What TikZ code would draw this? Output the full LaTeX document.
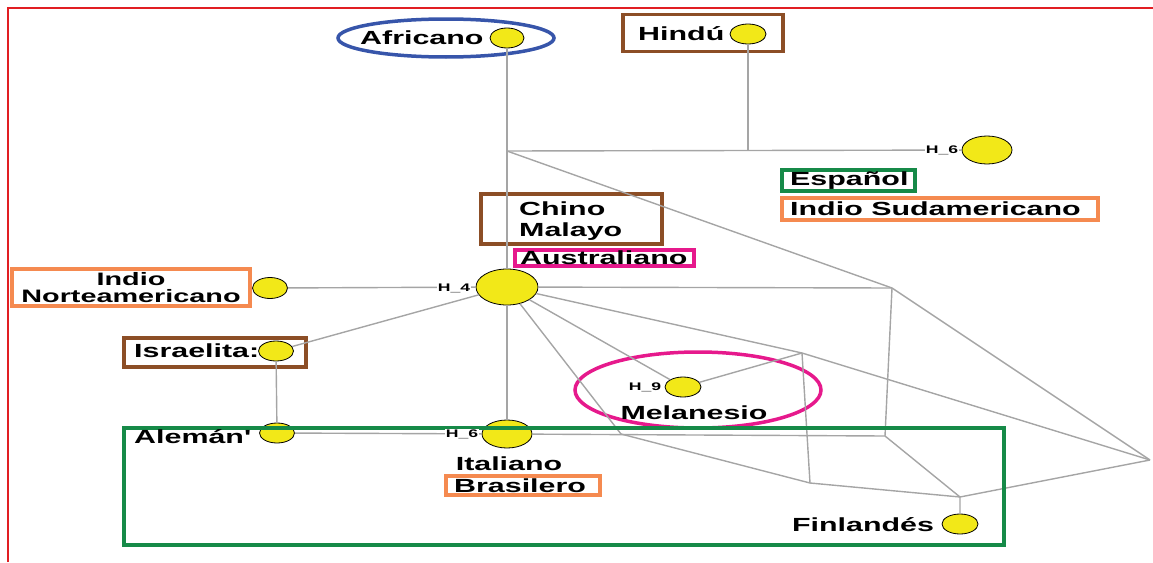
\documentclass[tikz,border=0pt]{standalone}
\usepackage{fontspec}
\newfontfamily\rotulo[FakeStretch=1.6]{Liberation Sans}
\usepackage{tikz}
\usetikzlibrary{shapes}

\begin{document}
\begin{tikzpicture}[x=1pt,y=-1pt]
    \definecolor{mimarron}{RGB}{140,78,38}
    \definecolor{minaranja}{RGB}{245,138,80}
    \definecolor{miverde}{RGB}{22,138,72}
    \definecolor{mirosa}{RGB}{230,25,140}
    \definecolor{miazul}{RGB}{55,85,170}
    \definecolor{miamarillo}{RGB}{242,232,24}
    \definecolor{migris}{RGB}{165,165,165}
    \definecolor{mirojo}{RGB}{225,30,35}

    \tikzstyle{nudo}=[ellipse,draw=black,line width=0.8pt,fill=miamarillo,inner sep=0pt]  % nodo amarillo
    \tikzstyle{caja}=[rectangle,draw,line width=3.5pt,inner sep=0pt]  % recuadro de color
    \tikzstyle{aro}=[ellipse,draw,line width=3.5pt,inner sep=0pt]  % ovalo de color
    \tikzstyle{rama}=[draw=migris,line width=1.4pt]  % linea gris de la red
    \tikzstyle{nombre}=[font=\rotulo\bfseries\fontsize{19}{16}\selectfont,inner sep=0pt]
    \tikzstyle{hnom}=[font=\rotulo\bfseries\fontsize{11}{11}\selectfont,inner sep=0.5pt,fill=white]
    \tikzstyle{punto}=[coordinate]  % union de ramas

    \useasboundingbox (0,0) rectangle (1153,562);
    \draw[mirojo,line width=1.2pt] (8,562) -- (8,8) -- (1153,8);

    % recuadros y ovalos
    \node[aro,draw=miazul,minimum width=216,minimum height=38](afrO) at (446,38){};
    \node[caja,draw=mimarron,minimum width=160,minimum height=37](hinC) at (703,33){};
    \node[caja,draw=miverde,minimum width=133,minimum height=21](espC) at (848.5,180.5){};
    \node[caja,draw=minaranja,minimum width=316,minimum height=22](sudC) at (940,209){};
    \node[caja,draw=mimarron,minimum width=181,minimum height=50](chiC) at (571.5,219){};
    \node[caja,draw=mirosa,minimum width=179,minimum height=16](ausC) at (604.5,258){};
    \node[caja,draw=minaranja,minimum width=238,minimum height=37](norC) at (131,287.5){};
    \node[caja,draw=mimarron,minimum width=182,minimum height=29](isrC) at (215,352.5){};
    \node[caja,draw=minaranja,minimum width=154,minimum height=19](braC) at (523,485.5){};
    \node[aro,draw=mirosa,minimum width=246,minimum height=76](melO) at (698,390){};

    % nodos amarillos
    \node[nudo,minimum width=34,minimum height=20](afr) at (507,38){};
    \node[nudo,minimum width=36,minimum height=20](hin) at (748,34){};
    \node[nudo,minimum width=50,minimum height=28](h6a) at (987,150){};
    \node[nudo,minimum width=62,minimum height=36](cen) at (507,287){};
    \node[nudo,minimum width=35,minimum height=21](inn) at (270,288){};
    \node[nudo,minimum width=35,minimum height=20](isr) at (276,351){};
    \node[nudo,minimum width=35,minimum height=20](ale) at (277,433){};
    \node[nudo,minimum width=50,minimum height=28](ita) at (507,434){};
    \node[nudo,minimum width=36,minimum height=20](mel) at (683,387){};
    \node[nudo,minimum width=36,minimum height=20](fin) at (960,524){};

    % uniones
    \node[punto](j1) at (507,151){};
    \node[punto](j1h) at (748,151){};
    \node[punto](j2) at (892,288){};
    \node[punto](j3) at (1150,460){};
    \node[punto](j4) at (802,353){};
    \node[punto](j5) at (810,483){};
    \node[punto](j6) at (621,434){};
    \node[punto](j7) at (885,436){};
    \node[punto](j8) at (960,497){};

    % ramas
    \draw[rama](afr) -- (j1) -- (cen);
    \draw[rama](j1) -- (h6a);
    \draw[rama](hin) -- (j1h);
    \draw[rama](j1) -- (j2);
    \draw[rama](cen) -- (j2) -- (j3);
    \draw[rama](j2) -- (j7);
    \draw[rama](cen) -- (j4) -- (j3);
    \draw[rama](cen) -- (mel) -- (j4);
    \draw[rama](j4) -- (j5);
    \draw[rama](cen) -- (j6) -- (j5) -- (j8) -- (j3);
    \draw[rama](ita) -- (j7) -- (j8) -- (fin);
    \draw[rama](ale) -- (ita);
    \draw[rama](isr) -- (ale);
    \draw[rama](isr) -- (cen);
    \draw[rama](inn) -- (cen);
    \draw[rama](cen) -- (ita);

    % caja grande verde
    \node[caja,draw=miverde,minimum width=880,minimum height=117](grupo) at (564,486.5){};

    % textos
    \node[nombre,anchor=west](afrT) at (360,38){Africano};
    \node[nombre,anchor=west](hinT) at (638,34){Hindú};
    \node[nombre,anchor=west](espT) at (790,181){Español};
    \node[nombre,anchor=west](sudT) at (790,209){Indio Sudamericano};
    \node[nombre,anchor=west,align=left](chiT) at (519,221.5){Chino\\[5pt]Malayo};
    \node[nombre,anchor=west](ausT) at (520,258){Australiano};
    \node[nombre,align=center,font=\rotulo\bfseries\fontsize{18}{17}\selectfont](norT) at (131,288){Indio\\Norteamericano};
    \node[nombre,anchor=west](isrT) at (134,351){Israelita:};
    \node[nombre,anchor=west](aleT) at (134,437){Alemán'};
    \node[nombre](itaT) at (509,464){Italiano};
    \node[nombre,anchor=west](braT) at (454,486){Brasilero};
    \node[nombre](melT) at (694,413){Melanesio};
    \node[nombre](finT) at (863,525){Finlandés};

    % rotulos H_
    \node[hnom](h6aT) at (942,150){H\_6};
    \node[hnom](cenT) at (454,288){H\_4};
    \node[hnom](itaH) at (462,434){H\_6};
    \node[hnom](melH) at (645,387){H\_9};
\end{tikzpicture}
\end{document}
